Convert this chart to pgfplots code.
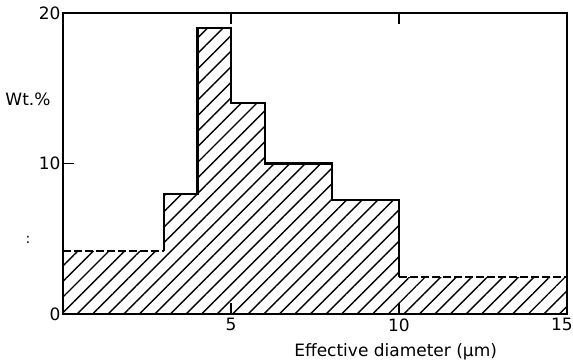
\documentclass[border=0pt]{standalone}
\usepackage{fontspec}
\setmainfont{DejaVu Sans}
\usepackage{pgfplots}
\pgfplotsset{compat=1.18}
\usetikzlibrary{patterns.meta}
\begin{document}
\begin{tikzpicture}
\useasboundingbox (-63pt,-46pt) rectangle (510pt,314pt);
\begin{axis}[
  at={(0,0)}, anchor=south west,
  scale only axis, width=504pt, height=301pt,
  xmin=0, xmax=15, ymin=0, ymax=20,
  xtick={5,10,15}, ytick={0,10,20},
  xticklabels={5,10,{\kern-10pt 15}},
  xtick pos=both, ytick pos=left,
  tick align=inside,
  major tick length=11pt,
  axis line style={line width=1.6pt},
  every tick/.style={line width=1.3pt, black},
  tick label style={font=\fontsize{17}{19}\selectfont},
  /pgf/number format/assume math mode=true,
  xticklabel style={yshift=-1pt},
  yticklabel style={xshift=1pt},
  clip=false,
]
% hatched area
\addplot[draw=none, pattern={Lines[angle=45,distance=11pt,line width=1.4pt]}]
  coordinates {(0,0)(0,4.2)(3,4.2)(3,8)(4,8)(4,19)(5,19)(5,14)(6,14)(6,10)(8,10)(8,7.55)(10,7.55)(10,2.45)(15,2.45)(15,0)} -- cycle;
% solid outline
\addplot[black, line width=2.2pt, line join=miter]
  coordinates {(3,4.2)(3,8)(4,8)(4,19)(5,19)(5,14)(6,14)(6,10)(8,10)(8,7.55)(10,7.55)(10,2.45)};
% dashed tails
\addplot[black, line width=1.8pt, dash pattern=on 8pt off 3pt]
  coordinates {(0,4.2)(3,4.2)};
\addplot[black, line width=1.8pt, dash pattern=on 8pt off 3pt]
  coordinates {(10,2.45)(15,2.45)};
\node[font=\fontsize{17}{19}\selectfont] at (rel axis cs:0,0.714) [xshift=-35pt] {Wt.\%};
\node[font=\fontsize{14}{16}\selectfont] at (rel axis cs:0,0.246) [xshift=-35pt] {:};
\node[font=\fontsize{17}{19}\selectfont] at (rel axis cs:0.66,0) [yshift=-38pt] {Effective diameter (μm)};
\end{axis}
\end{tikzpicture}
\end{document}
